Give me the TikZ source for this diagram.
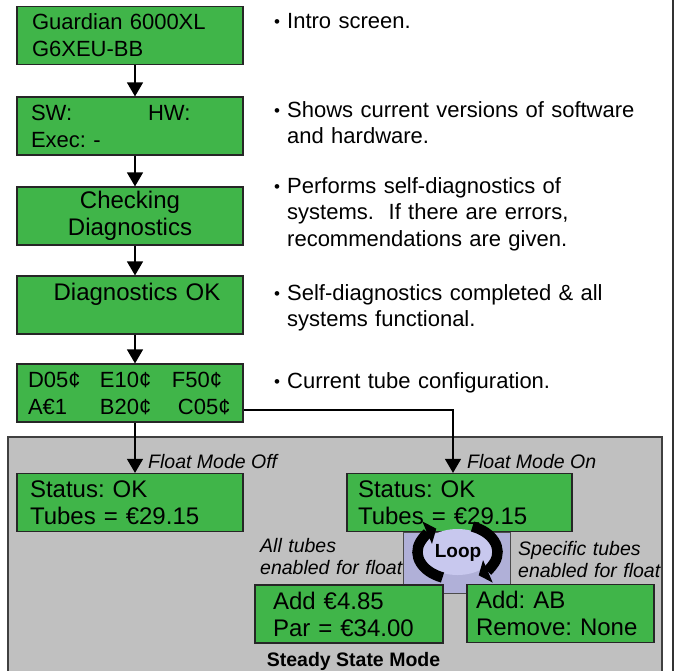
\documentclass[tikz,border=0pt]{standalone}
\usepackage{fontspec}
\setmainfont{Liberation Sans}
\frenchspacing
\usetikzlibrary{arrows.meta}
\definecolor{lcdgreen}{RGB}{64,181,73}
\definecolor{panelgray}{RGB}{192,192,192}
\definecolor{loopblue}{RGB}{176,176,216}
\definecolor{looplight}{RGB}{200,200,238}
\tikzset{
	screen/.style={draw=black!85,line width=1.2pt,fill=lcdgreen,minimum height=58pt,inner ysep=0pt,align=left,font=\fontsize{22}{27}\selectfont},
	bigscreen/.style={screen,font=\fontsize{24}{27}\selectfont},
	note/.style={anchor=base west,inner sep=0pt,text width=380pt,align=left,font=\fontsize{22}{26.5}\selectfont},
	dot/.style={anchor=base,inner sep=0pt,font=\fontsize{17}{20}\selectfont},
	tag/.style={anchor=base west,inner sep=0pt,align=left,font=\fontsize{19.5}{22}\selectfont\itshape},
	flow/.style={line width=1.3pt,-{Triangle[length=14pt,width=16pt]}},
	turn/.style={line width=10.5pt,-{Triangle[length=10pt,width=24pt]}}
}
\begin{document}
\begin{tikzpicture}[x=1pt,y=-1pt]
		\useasboundingbox (0,0) rectangle (676,670);
		\draw[draw=black!75,line width=2pt,fill=panelgray] (8,437) rectangle (662,676);
		\draw[line width=1.5pt,black!80] (673,-2) -- (673,672);
		\draw[draw=black!70,line width=1pt,fill=loopblue] (403,532) rectangle (510,593);
		\node[screen,minimum width=226pt,inner xsep=15pt,text width=196pt] (intro) at (130,35.5) {Guardian 6000XL\\G6XEU-BB};
		\node[screen,minimum width=226pt,inner xsep=14pt,text width=198pt] (ver) at (130,126) {\makebox[117pt][l]{SW:}HW:\\Exec: -};
		\node[bigscreen,minimum width=226pt,inner xsep=15pt,text width=196pt,align=center] (check) at (130,216) {Checking\\Diagnostics};
		\node[bigscreen,minimum width=226pt,inner xsep=15pt,text width=196pt,align=center] (diag) at (130,305) {\hspace*{14pt}Diagnostics OK\\\mbox{}};
		\node[screen,minimum width=226pt,inner xsep=11pt,text width=204pt] (tubes) at (130,393) {\makebox[72pt][l]{D05¢}\makebox[72pt][l]{E10¢}F50¢\\\makebox[72pt][l]{A€1}\makebox[78pt][l]{B20¢}C05¢};
		\node[bigscreen,minimum width=226pt,inner xsep=13pt,text width=200pt] (off) at (130,502.5) {Status: OK\\Tubes = €29.15};
		\node[bigscreen,minimum width=225pt,inner xsep=11pt,text width=203pt] (on) at (459.5,502.5) {Status: OK\\Tubes = €29.15};
		\node[bigscreen,minimum width=188pt,inner xsep=18pt,text width=152pt] (addall) at (349,614) {Add €4.85\\Par = €34.00};
		\node[bigscreen,minimum width=187pt,inner xsep=9pt,text width=169pt] (addspec) at (560.5,613.5) {Add: AB\\Remove: None};
		\fill[looplight] (457.5,552) ellipse [x radius=36, y radius=23];
		\draw[turn] (457.5,552) ++(112:40 and 27.5) arc[start angle=112,end angle=238,x radius=40,y radius=27.5];
		\draw[turn] (457.5,552) ++(292:40 and 27.5) arc[start angle=292,end angle=418,x radius=40,y radius=27.5];
		\node[font=\fontsize{19}{22}\selectfont\bfseries] (loop) at (458,553) {Loop};
		\coordinate (bend) at (453,410);
		\draw[flow] ([xshift=5pt]intro.south) -- ([xshift=5pt]ver.north);
		\draw[flow] ([xshift=5pt]ver.south) -- ([xshift=5pt]check.north);
		\draw[flow] ([xshift=5pt]check.south) -- ([xshift=5pt]diag.north);
		\draw[flow] ([xshift=5pt]diag.south) -- ([xshift=5pt]tubes.north);
		\draw[flow] ([xshift=5pt]tubes.south) -- ([xshift=5pt]off.north);
		\draw[flow] (tubes.east |- bend) -- (bend) -- (bend |- on.north);
		\node[tag] (offtag) at (148,468) {Float Mode Off};
		\node[tag] (ontag) at (467,468) {Float Mode On};
		\node[tag,text width=150pt] (alltag) at (260,552) {All tubes\\enabled for float};
		\node[tag,text width=150pt] (spectag) at (518,555) {Specific tubes\\enabled for float};
		\node[anchor=base,inner sep=0pt,font=\fontsize{19.5}{22}\selectfont\bfseries] (mode) at (353.5,666) {Steady State Mode};
		\node[dot] (d1) at (277,27) {•};
		\node[note] (n1) at (287,28) {Intro screen.};
		\node[dot] (d2) at (277,116) {•};
		\node[note] (n2) at (287,117) {Shows current versions of software\\and hardware.};
		\node[dot] (d3) at (277,192) {•};
		\node[note] (n3) at (287,193) {Performs self-diagnostics of\\systems.\ \ If there are errors,\\recommendations are given.};
		\node[dot] (d4) at (277,299) {•};
		\node[note] (n4) at (287,300) {Self-diagnostics completed \& all\\systems functional.};
		\node[dot] (d5) at (277,387) {•};
		\node[note] (n5) at (287,388) {Current tube configuration.};
	\end{tikzpicture}
\end{document}
